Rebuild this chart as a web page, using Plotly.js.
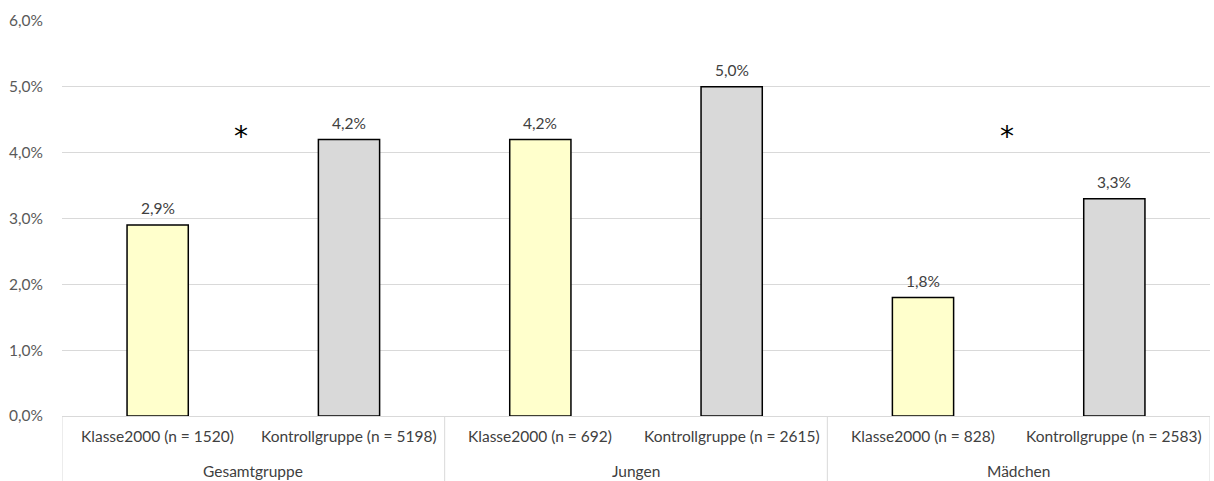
<!DOCTYPE html>
<html>
<head>
<meta charset="utf-8">
<script src="https://cdn.plot.ly/plotly-3.0.1.min.js"></script>
<style>html,body{margin:0;padding:0;background:#fff;}#chart{width:1214px;height:481px;}</style>
</head>
<body>
<div id="chart"></div>
<script>
const barLabels = ["Klasse2000 (n = 1520)", "Kontrollgruppe (n = 5198)", "Klasse2000 (n = 692)", "Kontrollgruppe (n = 2615)", "Klasse2000 (n = 828)", "Kontrollgruppe (n = 2583)"];
const groups = ["Gesamtgruppe", "Jungen", "Mädchen"];
const values = [2.9, 4.2, 4.2, 5.0, 1.8, 3.3];
const valueText = ["2,9%", "4,2%", "4,2%", "5,0%", "1,8%", "3,3%"];
const barColors = ["#FFFFCC", "#D9D9D9", "#FFFFCC", "#D9D9D9", "#FFFFCC", "#D9D9D9"];
const significant = [true, false, true];
const starLevel = 4.3;
const yTicks = [0, 1, 2, 3, 4, 5, 6];
const yTickText = ["0,0%", "1,0%", "2,0%", "3,0%", "4,0%", "5,0%", "6,0%"];

const xs = barLabels.map((_, i) => i);
const font = "Lato, Open Sans, sans-serif";
const txtColor = '#404040';

const annotations = [];
values.forEach((v, i) => annotations.push({
  x: i, y: v, xref: 'x', yref: 'y', text: valueText[i], showarrow: false,
  yanchor: 'middle', yshift: 17, font: {family: font, size: 15.5, color: txtColor}
}));
barLabels.forEach((t, i) => annotations.push({
  x: i, y: 0, xref: 'x', yref: 'y', text: t, showarrow: false,
  yanchor: 'middle', yshift: -20, font: {family: font, size: 15.5, color: txtColor}
}));
groups.forEach((g, k) => annotations.push({
  x: 2 * k + 0.5, y: 0, xref: 'x', yref: 'y', text: g, showarrow: false,
  yanchor: 'middle', yshift: -55, font: {family: font, size: 15.5, color: txtColor}
}));
significant.forEach((s, k) => { if (s) annotations.push({
  x: 2 * k + 0.5, y: starLevel, xref: 'x', yref: 'y', text: '*', showarrow: false,
  yanchor: 'middle', yshift: -4, xshift: -12, font: {family: 'DejaVu Sans, sans-serif', size: 28, color: '#000'}
}); });

const shapes = [];
for (let k = 0; k <= groups.length; k++) {
  shapes.push({type: 'line', xref: 'x', yref: 'paper', x0: 2 * k - 0.5, x1: 2 * k - 0.5,
    y0: 0, y1: -0.17, line: {color: '#d9d9d9', width: 1}});
}

Plotly.newPlot('chart', [{
  type: 'bar', x: xs, y: values,
  marker: {color: barColors, line: {color: '#000', width: 1.5}},
  width: 0.32, hoverinfo: 'none'
}], {
  width: 1214, height: 481,
  margin: {l: 62, r: 4, t: 21, b: 65},
  paper_bgcolor: '#fff', plot_bgcolor: '#fff',
  showlegend: false,
  xaxis: {range: [-0.5, 5.5], showticklabels: false, showgrid: false, zeroline: false,
    showline: true, linecolor: '#d9d9d9', linewidth: 1, ticks: ''},
  yaxis: {range: [0, 6], tickvals: yTicks, ticktext: yTickText, showgrid: true,
    gridcolor: '#d9d9d9', gridwidth: 1, zeroline: false, showline: false,
    tickfont: {family: font, size: 15.5, color: '#595959'}, ticklabelstandoff: 18},
  annotations: annotations, shapes: shapes
}, {displayModeBar: false, staticPlot: true});
</script>
</body>
</html>
